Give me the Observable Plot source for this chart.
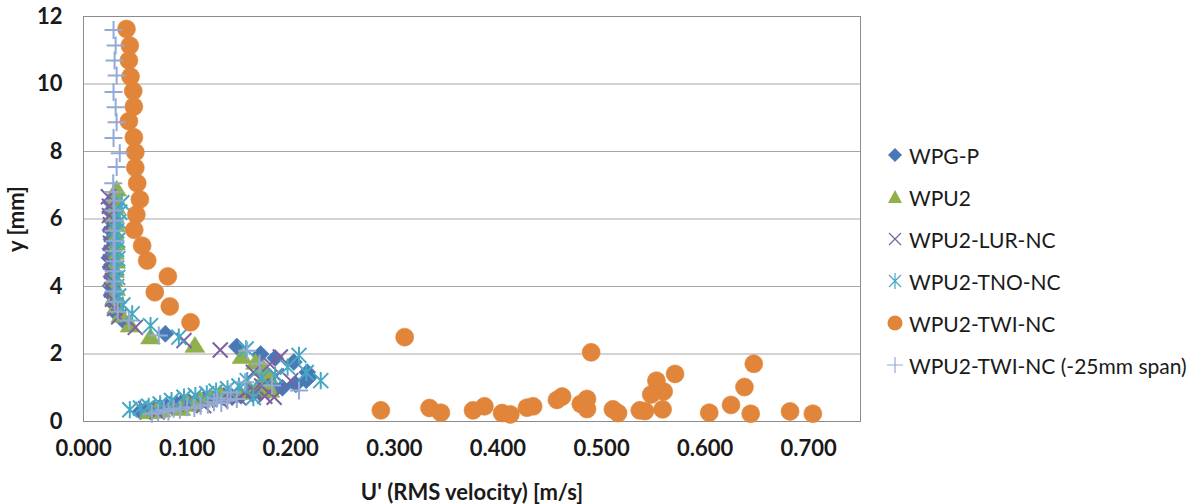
<!DOCTYPE html>
<html><head><meta charset="utf-8">
<script src="https://cdn.jsdelivr.net/npm/d3@7"></script>
<script src="https://cdn.jsdelivr.net/npm/@observablehq/plot@0.6"></script>
<style>
body{margin:0;background:#fff;}
#wrap{position:relative;width:1197px;height:504px;}
#legend{position:absolute;left:884px;top:134px;font-family:Lato,sans-serif;font-size:21px;color:#1a1a1a;}
.row{height:42px;display:flex;align-items:center;white-space:nowrap;}
.row svg{width:22px;height:22px;margin-right:3px;flex:none;}
</style></head><body><div id="wrap"><div id="legend"></div></div>
<script>
// ---- data ----
const seriesNames = ["WPG-P","WPU2","WPU2-LUR-NC","WPU2-TNO-NC","WPU2-TWI-NC","WPU2-TWI-NC (-25mm span)"];
const seriesColors = ["#4878b6","#8fb04a","#7d60a0","#45a9c4","#e0853a","#93aad7"];
const xTicks = [0,0.1,0.2,0.3,0.4,0.5,0.6,0.7];
const yTicks = [0,2,4,6,8,10,12];
const xTitle = "U' (RMS velocity) [m/s]";
const yTitle = "y [mm]";

const wpgpU = [0.055,0.060,0.068,0.074,0.080,0.090,0.095,0.102,0.112,0.118,0.125,0.135,0.143,0.152,0.163,0.170,0.178,0.185,0.192,0.205,0.215,0.218,0.216,0.203,0.185,0.171,0.148,0.079,0.040,0.031,0.029,0.027,0.026,0.027,0.026,0.025,0.026,0.027,0.026,0.027,0.026,0.027];
const wpgpY = [0.30,0.35,0.38,0.42,0.45,0.52,0.55,0.57,0.62,0.64,0.67,0.72,0.74,0.76,0.82,0.86,0.90,0.95,1.00,1.10,1.22,1.32,1.46,1.76,1.88,2.00,2.22,2.60,2.94,3.22,3.48,3.75,4.02,4.30,4.58,4.85,5.12,5.40,5.68,5.95,6.22,6.48];

const wpu2U = [0.063,0.070,0.075,0.085,0.094,0.100,0.105,0.113,0.122,0.132,0.140,0.150,0.160,0.168,0.180,0.176,0.178,0.174,0.166,0.153,0.1075,0.0647,0.045,0.036,0.032,0.030,0.031,0.029,0.030,0.031,0.030,0.031,0.030,0.031,0.030,0.031,0.031,0.032];
const wpu2Y = [0.28,0.30,0.33,0.42,0.38,0.55,0.50,0.62,0.72,0.82,0.80,0.85,0.95,1.00,0.92,1.15,1.35,1.56,1.75,1.92,2.25,2.50,2.85,3.14,3.40,3.66,3.93,4.20,4.47,4.74,5.01,5.28,5.55,5.82,6.09,6.36,6.63,6.88];

const lurU = [0.060,0.071,0.080,0.090,0.100,0.116,0.122,0.132,0.142,0.150,0.156,0.175,0.184,0.164,0.172,0.200,0.186,0.164,0.180,0.190,0.132,0.097,0.050,0.034,0.030,0.028,0.027,0.028,0.027,0.026,0.027,0.026,0.027,0.026,0.025,0.025,0.024];
const lurY = [0.38,0.28,0.42,0.52,0.55,0.47,0.66,0.62,0.78,0.70,0.85,0.75,0.72,0.92,1.05,1.21,1.35,1.46,1.70,1.91,2.12,2.40,2.79,3.10,3.35,3.62,3.90,4.18,4.45,4.73,5.00,5.28,5.55,5.83,6.10,6.38,6.66];

const tnoU = [0.0447,0.055,0.063,0.074,0.085,0.097,0.108,0.119,0.128,0.139,0.150,0.164,0.158,0.172,0.185,0.197,0.229,0.215,0.208,0.157,0.092,0.0647,0.047,0.038,0.034,0.032,0.033,0.032,0.033,0.032,0.033,0.032,0.034,0.035,0.037];
const tnoY = [0.35,0.40,0.45,0.52,0.62,0.72,0.77,0.82,0.90,0.97,1.05,0.71,1.21,1.30,1.36,1.61,1.21,1.45,1.96,2.15,2.50,2.84,3.19,3.45,3.72,4.00,4.27,4.55,4.82,5.10,5.37,5.65,5.92,6.20,6.48];

const twiU = [0.0415,0.0447,0.0438,0.0454,0.048,0.0486,0.0438,0.0486,0.050,0.050,0.0518,0.0544,0.051,0.049,0.0566,0.0615,0.0814,0.0688,0.0833,0.1033,
  0.310,0.490,0.647,0.571,0.553,0.638,0.560,0.548,0.462,0.457,0.486,0.480,0.486,0.625,0.434,0.428,0.387,0.376,0.334,0.345,0.404,0.412,0.511,0.516,0.537,0.542,0.559,0.604,0.644,0.682,0.704,0.287];
const twiY = [11.63,11.14,10.70,10.22,9.79,9.33,8.90,8.42,7.98,7.52,7.06,6.58,6.13,5.68,5.21,4.77,4.30,3.83,3.41,2.94,
  2.50,2.05,1.71,1.41,1.21,1.02,0.89,0.80,0.74,0.64,0.67,0.52,0.37,0.49,0.45,0.41,0.45,0.33,0.40,0.26,0.25,0.21,0.36,0.25,0.33,0.31,0.36,0.26,0.23,0.30,0.23,0.33];

const spanU = [0.066,0.072,0.0775,0.082,0.087,0.093,0.100,0.107,0.113,0.120,0.126,0.133,0.139,0.148,0.129,0.142,0.156,0.182,0.208,0.170,0.158,0.0727,0.0437,0.033,0.030,0.029,0.030,0.029,0.030,0.029,0.030,0.029,0.030,0.029,0.030,0.029,0.0287,0.032,0.035,0.029,0.032,0.031,0.029,0.032,0.030,0.031,0.029];
const spanY = [0.23,0.27,0.33,0.30,0.38,0.35,0.42,0.40,0.47,0.50,0.57,0.55,0.62,0.67,0.68,0.86,1.16,1.07,0.92,1.71,2.10,2.55,2.99,3.25,3.55,3.85,4.15,4.45,4.75,5.05,5.35,5.65,5.95,6.25,6.55,6.80,7.06,7.54,7.95,8.40,8.87,9.31,9.76,10.25,10.70,11.14,11.60];

// ---- symbols (Excel-like markers) ----
const h = s => Math.sqrt(s / Math.PI);
const symDiamond = {draw(c, s){const r=h(s); c.moveTo(0,-r); c.lineTo(r,0); c.lineTo(0,r); c.lineTo(-r,0); c.closePath();}};
const symTriangle = {draw(c, s){const r=h(s); c.moveTo(0,-r); c.lineTo(r*1.1,r*0.75); c.lineTo(-r*1.1,r*0.75); c.closePath();}};
const symTimes = {draw(c, s){const r=h(s); c.moveTo(-r,-r); c.lineTo(r,r); c.moveTo(r,-r); c.lineTo(-r,r);}};
const symStar = {draw(c, s){const r=h(s); c.moveTo(-r,-r); c.lineTo(r,r); c.moveTo(r,-r); c.lineTo(-r,r); c.moveTo(0,-r*1.15); c.lineTo(0,r*1.15);}};
const symPlus = {draw(c, s){const r=h(s); c.moveTo(-r,0); c.lineTo(r,0); c.moveTo(0,-r); c.lineTo(0,r);}};

const zip = (U, Y) => U.map((u, i) => ({u, y: Y[i]}));
const series = [
  {data: zip(wpgpU, wpgpY), symbol: symDiamond, r: 8.5, filled: true},
  {data: zip(wpu2U, wpu2Y), symbol: symTriangle, r: 9, filled: true},
  {data: zip(lurU, lurY), symbol: symTimes, r: 7.5, filled: false},
  {data: zip(tnoU, tnoY), symbol: symStar, r: 7.5, filled: false},
  {data: zip(twiU, twiY), symbol: "circle", r: 9, filled: true},
  {data: zip(spanU, spanY), symbol: symPlus, r: 9, filled: false}
];

const dotMarks = series.map((s, i) => Plot.dot(s.data, {
  x: "u", y: "y", symbol: s.symbol, r: s.r,
  fill: s.filled ? seriesColors[i] : "none",
  stroke: seriesColors[i],
  strokeWidth: s.filled ? 0.6 : 2
}));

const chart = Plot.plot({
  width: 1197, height: 504,
  marginLeft: 83, marginRight: 337, marginTop: 16, marginBottom: 83,
  style: {fontFamily: "Lato, sans-serif", fontSize: "21px", color: "#1a1a1a", background: "#fff", overflow: "visible"},
  x: {domain: [0, 0.75], ticks: xTicks, tickFormat: d3.format(".3f"), tickSize: 0, tickPadding: 19,
      label: xTitle, labelAnchor: "center", labelOffset: 78, labelArrow: "none"},
  y: {domain: [0, 12], ticks: yTicks, tickSize: 0, tickPadding: 21,
      label: yTitle, labelAnchor: "center", labelOffset: 75, labelArrow: "none"},
  marks: [
    Plot.gridY(yTicks, {stroke: "#a6a6a6", strokeOpacity: 1}),
    Plot.frame({stroke: "#8c8c8c"}),
    ...dotMarks
  ]
});
chart.querySelectorAll('g[aria-label$="label"] text').forEach(t => {
  t.setAttribute("font-weight", "bold");
  t.setAttribute("font-size", "22px");
});
document.getElementById("wrap").prepend(chart);

// ---- legend ----
const legend = document.getElementById("legend");
const legSyms = [
  `<path d="M11,4 L18,11 L11,18 L4,11Z" fill="C"/>`,
  `<path d="M11,4 L18,17 L4,17Z" fill="C"/>`,
  `<path d="M5,5 L17,17 M17,5 L5,17" stroke="C" stroke-width="1.2" fill="none"/>`,
  `<path d="M5,5 L17,17 M17,5 L5,17 M11,3 L11,19" stroke="C" stroke-width="1.2" fill="none"/>`,
  `<circle cx="11" cy="11" r="7.5" fill="C"/>`,
  `<path d="M3,11 L19,11 M11,3 L11,19" stroke="C" stroke-width="1.2" fill="none"/>`
];
seriesNames.forEach((name, i) => {
  const row = document.createElement("div");
  row.className = "row";
  row.innerHTML = `<svg viewBox="0 0 22 22">${legSyms[i].replace(/C"/g, seriesColors[i] + '"')}</svg><span>${name}</span>`;
  legend.appendChild(row);
});
</script></body></html>
